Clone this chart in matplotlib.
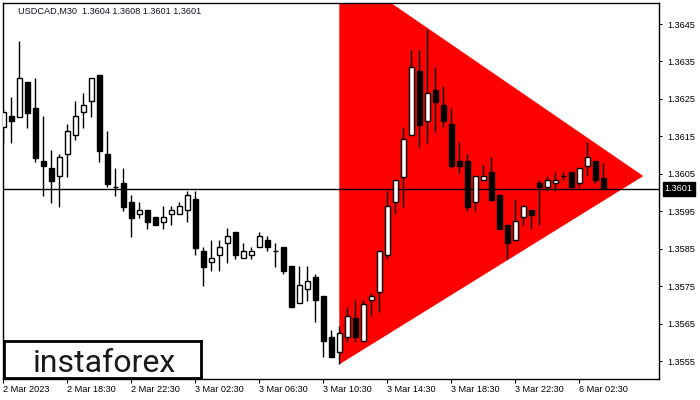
import matplotlib
matplotlib.use("Agg")
import matplotlib.pyplot as plt
from matplotlib.patches import Polygon, Rectangle
from matplotlib.transforms import blended_transform_factory

# ---- data (USDCAD M30) ----
opens = [1.36175, 1.36204, 1.36202, 1.36295, 1.36226, 1.36084, 1.36066, 1.36043, 1.36102, 1.36153,
         1.36214, 1.36244, 1.36314, 1.36103, 1.36016, 1.36025, 1.35974, 1.35942, 1.35953, 1.35934,
         1.35922, 1.35942, 1.35942, 1.35953, 1.35982, 1.35844, 1.35814, 1.35832, 1.35865, 1.35894,
         1.35824, 1.35832, 1.35854, 1.35872, 1.35843, 1.35854, 1.35804, 1.35704, 1.35742, 1.35774,
         1.35723, 1.35613, 1.35573, 1.35613, 1.35664, 1.35603, 1.35712, 1.35734, 1.35832, 1.35974,
         1.36042, 1.36153, 1.36324, 1.36192, 1.36273, 1.36233, 1.36183, 1.36083, 1.36083, 1.35974,
         1.36033, 1.36054, 1.35993, 1.35913, 1.35872, 1.35934, 1.35953, 1.36025, 1.36014, 1.36025,
         1.36043, 1.36054, 1.36025, 1.36072, 1.36083, 1.36040]
highs = [1.36226, 1.36256, 1.36405, 1.36295, 1.36305, 1.36204, 1.36114, 1.36103, 1.36183, 1.36244,
         1.36267, 1.36305, 1.36314, 1.36165, 1.36066, 1.36066, 1.35993, 1.35974, 1.35953, 1.35934,
         1.35964, 1.35964, 1.35974, 1.36004, 1.36004, 1.35854, 1.35873, 1.35873, 1.35905, 1.35894,
         1.35865, 1.35854, 1.35894, 1.35883, 1.35865, 1.35854, 1.35804, 1.35804, 1.35804, 1.35783,
         1.35723, 1.35633, 1.35644, 1.35694, 1.35713, 1.35713, 1.35733, 1.35843, 1.36003, 1.36033,
         1.36174, 1.36382, 1.36382, 1.36436, 1.36334, 1.36284, 1.36226, 1.36134, 1.36103, 1.36043,
         1.36073, 1.36094, 1.35993, 1.35913, 1.35982, 1.35963, 1.35953, 1.36033, 1.36043, 1.36054,
         1.36054, 1.36054, 1.36065, 1.36135, 1.36083, 1.36080]
lows = [1.36132, 1.36133, 1.36202, 1.36173, 1.36082, 1.35992, 1.35973, 1.35962, 1.36042, 1.36141,
        1.36173, 1.36202, 1.36082, 1.36016, 1.35992, 1.35952, 1.35882, 1.35933, 1.35903, 1.35913,
        1.35903, 1.35913, 1.35942, 1.35922, 1.35832, 1.35751, 1.35791, 1.35791, 1.35813, 1.35823,
        1.35824, 1.35823, 1.35854, 1.35843, 1.35802, 1.35782, 1.35694, 1.35704, 1.35711, 1.35654,
        1.35562, 1.35562, 1.35541, 1.35602, 1.35602, 1.35603, 1.35671, 1.35682, 1.35823, 1.35942,
        1.35962, 1.36153, 1.36122, 1.36133, 1.36162, 1.36175, 1.36065, 1.36053, 1.35952, 1.35952,
        1.36033, 1.35981, 1.35903, 1.35823, 1.35872, 1.35913, 1.35903, 1.35912, 1.36003, 1.36003,
        1.36033, 1.36014, 1.36014, 1.36043, 1.36025, 1.36010]
closes = [1.36215, 1.36192, 1.36305, 1.36213, 1.36093, 1.36072, 1.36032, 1.36095, 1.36164, 1.36204,
          1.36233, 1.36305, 1.36112, 1.36023, 1.36014, 1.35962, 1.35933, 1.35953, 1.35922, 1.35913,
          1.35934, 1.35953, 1.35963, 1.35993, 1.35853, 1.35802, 1.35824, 1.35854, 1.35883, 1.35832,
          1.35843, 1.35843, 1.35883, 1.35854, 1.35843, 1.35791, 1.35694, 1.35752, 1.35763, 1.35713,
          1.35603, 1.35562, 1.35624, 1.35671, 1.35613, 1.35703, 1.35724, 1.35843, 1.35963, 1.36033,
          1.36142, 1.36334, 1.36181, 1.36265, 1.36243, 1.36192, 1.36072, 1.36072, 1.35962, 1.36043,
          1.36043, 1.35981, 1.35903, 1.35865, 1.35923, 1.35963, 1.35941, 1.36016, 1.36033, 1.36033,
          1.36043, 1.36014, 1.36065, 1.36094, 1.36033, 1.36010]

# triangle pattern: (bar index, price)
tri_bars = [42, 42, 80]
tri_prices = [1.36601, 1.35541, 1.36044]

current_price = 1.3601
title_text = "USDCAD,M30  1.3604 1.3608 1.3601 1.3601"

xtick_bars = [0, 8, 16, 24, 32, 40, 48, 56, 64, 72]
xtick_labels = ["2 Mar 2023", "2 Mar 18:30", "2 Mar 22:30", "3 Mar 02:30", "3 Mar 06:30",
                "3 Mar 10:30", "3 Mar 14:30", "3 Mar 18:30", "3 Mar 22:30", "6 Mar 02:30"]
ytick_values = [1.3555, 1.3565, 1.3575, 1.3585, 1.3595, 1.3605, 1.3615, 1.3625, 1.3635, 1.3645]

# ---- figure ----
plt.rcParams['font.family'] = ['Liberation Sans', 'DejaVu Sans']
fig = plt.figure(figsize=(7, 4), dpi=100)
W, H = 700, 400
ax = fig.add_axes([2.7 / W, 1 - 379 / H, (659.3 - 2.7) / W, (379 - 2.7) / H])
ax.set_xlim(-0.075, 82.0)
ax.set_ylim(1.35502, 1.36507)

# triangle
ax.add_patch(Polygon(list(zip(tri_bars, tri_prices)), closed=True, facecolor='#ff0000',
                     edgecolor='none', zorder=1))

# current price line
ax.axhline(current_price, color='black', lw=1, zorder=2)

# candles
n = len(opens)
xs = list(range(n))
ax.vlines(xs, lows, highs, color='black', lw=1, zorder=3)
bw = 0.62
for i in range(n):
    o, c = opens[i], closes[i]
    bottom = min(o, c)
    h = abs(c - o)
    fc = 'white' if c > o else 'black'
    ax.add_patch(Rectangle((i - bw / 2, bottom), bw, h, facecolor=fc, edgecolor='black',
                           lw=1, zorder=4))

# spines
for s in ax.spines.values():
    s.set_color('black')
    s.set_linewidth(1)

# axes ticks
ax.yaxis.tick_right()
ax.set_yticks(ytick_values)
ax.set_yticklabels([f"{v:.4f}" for v in ytick_values])
ax.tick_params(axis='y', which='both', length=2.5, width=0.8, pad=3, labelsize=6.6,
               colors='black')
ax.set_xticks(xtick_bars)
ax.set_xticklabels(xtick_labels, ha='left')
ax.tick_params(axis='x', which='both', length=3, width=0.8, pad=1.5, labelsize=6.6,
               colors='black')
for lbl in ax.get_xticklabels():
    lbl.set_horizontalalignment('left')

# current price box
trans = blended_transform_factory(ax.transAxes, ax.transData)
ax.text(1.0 + 5.5 / 656.6, current_price, f"{current_price:.4f}", transform=trans,
        ha='left', va='center', color='white', fontsize=6.6, zorder=6,
        bbox=dict(boxstyle='square,pad=0.25', facecolor='black', edgecolor='black'),
        clip_on=False)

# title
ax.text(15.5 / 656.6, 1 - 8.5 / 376.3, title_text, transform=ax.transAxes, ha='left',
        va='center', fontsize=6.6, color='#111122', zorder=6)

# logo box
logo_ax = fig.add_axes([3.5 / W, 1 - 378 / H, (201 - 3.5) / W, (378 - 341) / H])
logo_ax.set_xticks([])
logo_ax.set_yticks([])
logo_ax.set_facecolor('white')
for s in logo_ax.spines.values():
    s.set_color('black')
    s.set_linewidth(2)
logo_ax.text(0.51, 0.40, "instaforex", transform=logo_ax.transAxes, ha='center',
             va='center', fontsize=23, color='#1a1a1a', family=['Roboto', 'DejaVu Sans'],
             fontweight='normal')

fig.savefig("out.png", dpi=100)
